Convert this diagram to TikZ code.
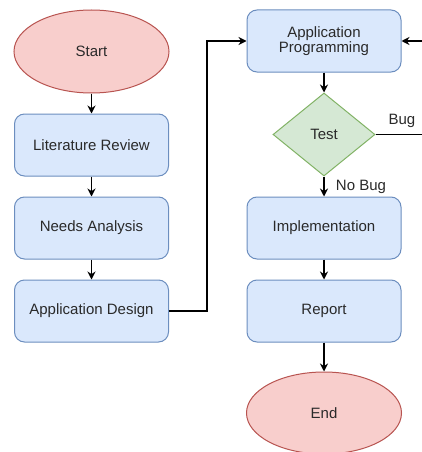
\documentclass[tikz,border=0pt]{standalone}
\usepackage{fontspec}
\setmainfont{Liberation Sans}
\usetikzlibrary{shapes.geometric,arrows.meta}
\definecolor{bfill}{HTML}{DAE8FC}
\definecolor{bdraw}{HTML}{6C8EBF}
\definecolor{rfill}{HTML}{F8CECC}
\definecolor{rdraw}{HTML}{B85450}
\definecolor{gfill}{HTML}{D5E8D4}
\definecolor{gdraw}{HTML}{82B366}
\definecolor{txt}{HTML}{2A2A2A}
\begin{document}
\begin{tikzpicture}[x=1pt,y=-1pt,
  every node/.style={font=\fontsize{15}{16.5}\selectfont, text=txt, align=center},
  procbox/.style={draw=bdraw, fill=bfill, line width=1pt, rounded corners=10pt, minimum width=154pt, minimum height=62pt, inner sep=0pt},
  term/.style={ellipse, draw=rdraw, fill=rfill, line width=1pt, minimum width=155pt, minimum height=83pt, inner sep=0pt},
  decide/.style={diamond, draw=gdraw, fill=gfill, line width=1pt, minimum width=102pt, minimum height=83pt, inner sep=0pt, aspect=1.23},
  flow/.style={draw=black, line width=1.2pt, -{Stealth[length=8pt,width=8pt]}},
  lbl/.style={font=\fontsize{15}{16.5}\selectfont, text=txt}
]
\useasboundingbox (0,0) rectangle (422,452);
\fill[white] (0,0) rectangle (422,452);

\node[term] (start) at (91.5,51.5) {Start};
\node[procbox] (lit) at (91.5,145) {Literature Review};
\node[procbox] (needs) at (91.5,228) {Needs Analysis};
\node[procbox] (design) at (91.5,311) {Application Design};

\node[procbox] (prog) at (324,41) {Application\\[-2pt]Programming};
\node[decide] (test) at (324,134.5) {Test};
\node[procbox] (impl) at (324,228) {Implementation};
\node[procbox] (report) at (324,311) {Report};
\node[term, minimum height=82pt] (end) at (324,413) {End};

\coordinate (lc1) at (207,311);
\coordinate (lc2) at (207,41);
\coordinate (rc1) at (445,134.5);
\coordinate (rc2) at (445,41);

\draw[flow] (start) -- (lit);
\draw[flow] (lit) -- (needs);
\draw[flow] (needs) -- (design);
\draw[flow] (design.east) -- (lc1) -- (lc2) -- (prog.west);
\draw[flow] (prog) -- (test);
\draw[flow] (test) -- (impl) node[pos=0.5, lbl, anchor=west, xshift=8pt] {No Bug};
\draw[flow] (impl) -- (report);
\draw[flow] (report) -- (end);
\draw[flow] (test.east) -- (rc1) -- (rc2) -- (prog.east);
\node[lbl, anchor=south west] (bug) at (385,131) {Bug};
\end{tikzpicture}
\end{document}
